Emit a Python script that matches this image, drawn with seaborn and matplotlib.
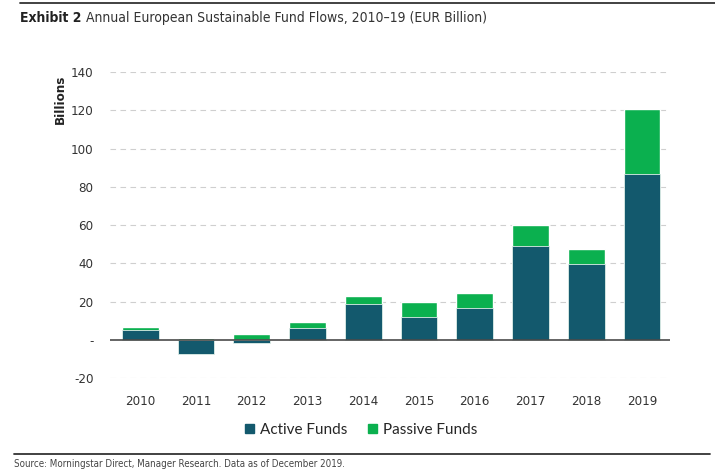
import numpy as np
import pandas as pd
import matplotlib
matplotlib.use("Agg")
import matplotlib.pyplot as plt
import seaborn as sns
from matplotlib.patches import Patch

# data (EUR billion)
years = ["2010", "2011", "2012", "2013", "2014", "2015", "2016", "2017", "2018", "2019"]
active = [5.2, -7.5, -1.4, 6.4, 18.6, 11.8, 16.5, 49.1, 39.7, 86.7]
passive = [1.6, 1.0, 3.1, 3.0, 4.4, 7.9, 8.2, 11.0, 8.0, 34.0]
yticks = [-20, 0, 20, 40, 60, 80, 100, 120, 140]
ytick_labels = ["-20", "-", "20", "40", "60", "80", "100", "120", "140"]

c_active = "#13596d"
c_passive = "#0bb04f"
narrow = dict(family="DejaVu Sans", stretch="condensed")

sns.set_style("white")
plt.rcParams["font.family"] = ["DejaVu Sans"]

df = pd.DataFrame({"year": years, "active": active, "passive": passive})
# green segment starts at the top of positive active flows (or at zero)
df["passive_top"] = df["active"].clip(lower=0) + df["passive"]

fig = plt.figure(figsize=(7.15, 4.75), dpi=100)
ax = fig.add_axes([0.154, 0.204, 0.783, 0.644])

for y in yticks:
    if y != 0:
        ax.axhline(y, color="#cfcfcf", lw=0.8, ls=(0, (5, 4)), zorder=0)

sns.barplot(data=df, x="year", y="passive_top", color=c_passive, width=0.66,
            saturation=1, ax=ax, zorder=2)
sns.barplot(data=df, x="year", y="active", color=c_active, width=0.66,
            saturation=1, ax=ax, zorder=3, edgecolor="#dfeee8", linewidth=0.6)
ax.axhline(0, color="#4a4a4a", lw=1.2, zorder=4)

ax.set_ylim(-20, 140)
ax.set_xlim(-0.54, 9.5)
ax.set_yticks(yticks)
ax.set_yticklabels(ytick_labels, fontsize=9.5, color="#333333", **narrow)
for lab in ax.get_xticklabels():
    lab.set_fontproperties(None)
    lab.set_family("DejaVu Sans")
    lab.set_stretch("condensed")
    lab.set_fontsize(9.5)
    lab.set_color("#333333")
ax.tick_params(axis="y", length=0, pad=12)
ax.tick_params(axis="x", length=0, pad=12)
ax.set_xlabel("")
ax.set_ylabel("")
sns.despine(ax=ax, left=True, bottom=True)

fig.text(0.085, 0.842, "Billions", rotation=90, ha="center", va="top",
         fontsize=9.5, fontweight="bold", color="#222222", **narrow)

handles = [Patch(color=c_active, label="Active Funds"),
           Patch(color=c_passive, label="Passive Funds")]
fig.legend(handles=handles, loc="center", bbox_to_anchor=(0.505, 0.095),
           ncol=2, frameon=False, prop={"family": "Lato", "size": 11},
           handlelength=0.6, handleheight=0.6, handletextpad=0.4,
           columnspacing=1.3)

# header / footer rules and text
fig.add_artist(plt.Line2D([0.028, 1.0], [0.994, 0.994], color="#333333", lw=1.3))
t1 = fig.text(0.028, 0.962, "Exhibit 2", fontsize=10, fontweight="bold",
              va="center", color="#222222", **narrow)
fig.canvas.draw()
bb = t1.get_window_extent().transformed(fig.transFigure.inverted())
fig.text(bb.x1 + 0.006, 0.962,
         "Annual European Sustainable Fund Flows, 2010\u201319 (EUR Billion)",
         fontsize=10, va="center", color="#333333", **narrow)
fig.add_artist(plt.Line2D([0.02, 0.993], [0.044, 0.044], color="#333333", lw=1.3))
fig.text(0.02, 0.023, "Source: Morningstar Direct, Manager Research. Data as of December 2019.",
         fontsize=7, va="center", color="#444444", **narrow)

fig.savefig("out.png", dpi=100)
